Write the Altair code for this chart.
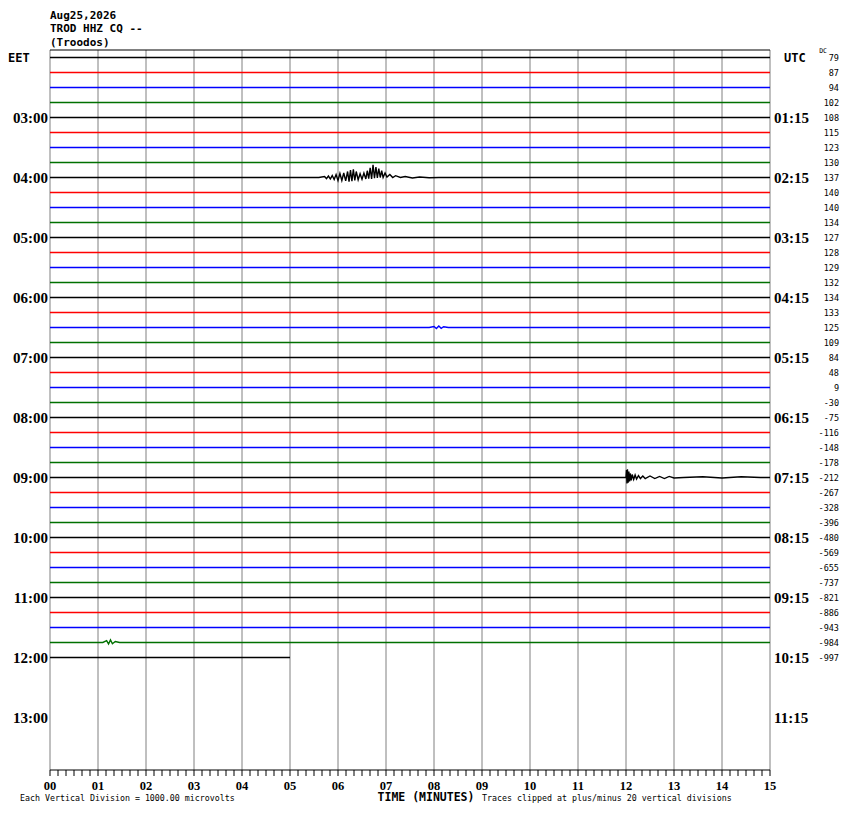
import altair as alt
import pandas as pd

# ---------------- data ----------------
station_lines = ["Aug25,2026", "TROD HHZ CQ --", "(Troodos)"]
trace_colors = ["#000000", "#ff0000", "#0000ff", "#007000"]
n_rows = 41            # 15-minute traces actually recorded
last_row_end = 5.0     # minutes recorded on the last trace
eet_labels = ["03:00", "04:00", "05:00", "06:00", "07:00", "08:00",
              "09:00", "10:00", "11:00", "12:00", "13:00"]
utc_labels = ["01:15", "02:15", "03:15", "04:15", "05:15", "06:15",
              "07:15", "08:15", "09:15", "10:15", "11:15"]
dc_values = [79, 87, 94, 102, 108, 115, 123, 130, 137, 140, 140, 134, 127, 128,
             129, 132, 134, 133, 125, 109, 84, 48, 9, -30, -75, -116, -148, -178,
             -212, -267, -328, -396, -480, -569, -655, -737, -821, -886, -943,
             -984, -997]
minute_labels = ["00", "01", "02", "03", "04", "05", "06", "07", "08", "09",
                 "10", "11", "12", "13", "14", "15"]

# event on trace 8 (04:00 EET): minutes and offset in vertical divisions (neg = up)
ev1_t = [5.60, 5.72, 5.76, 5.80, 5.84, 5.88, 5.92, 5.96, 6.00, 6.04, 6.08, 6.12,
         6.16, 6.20, 6.23, 6.26, 6.29, 6.32, 6.35, 6.38, 6.42, 6.46, 6.50, 6.54,
         6.58, 6.61, 6.64, 6.67, 6.70, 6.73, 6.76, 6.79, 6.82, 6.85, 6.88, 6.91,
         6.94, 6.98, 7.02, 7.08, 7.14, 7.20, 7.30, 7.40, 7.55, 7.70, 7.90, 8.10]
ev1_v = [0.0, -0.07, 0.07, -0.1, 0.1, -0.13, 0.13, -0.2, 0.2, -0.27, 0.2, -0.3,
         0.22, -0.4, 0.27, -0.5, 0.25, -0.55, 0.2, -0.4, 0.15, -0.25, 0.12, -0.3,
         0.1, -0.45, 0.07, -0.65, 0.1, -0.85, 0.05, -0.7, 0.03, -0.6, 0.0, -0.45,
         0.0, -0.3, -0.03, -0.2, 0.0, -0.12, 0.0, -0.07, 0.03, -0.03, 0.02, 0.0]

# event on trace 28 (09:00 EET)
ev2_t = [12.00, 12.01, 12.02, 12.03, 12.045, 12.06, 12.075, 12.09, 12.11, 12.13,
         12.16, 12.19, 12.22, 12.26, 12.30, 12.35, 12.40, 12.50, 12.60, 12.70,
         12.80, 12.90, 13.00, 13.20, 13.60, 14.00, 14.40, 14.80]
ev2_v = [0.0, -0.5, 0.4, -0.55, 0.35, -0.4, 0.27, -0.27, 0.2, -0.2, 0.13, -0.17,
         0.1, -0.13, 0.07, -0.1, 0.07, -0.1, 0.07, -0.07, 0.07, -0.07, 0.03, 0.0,
         -0.05, 0.03, -0.05, 0.0]

# small blip on trace 18 (06:30 EET)
ev3_t = [7.90, 8.00, 8.05, 8.10, 8.15, 8.20, 8.30]
ev3_v = [0.0, -0.07, 0.07, -0.1, 0.05, -0.05, 0.0]

# small blip on trace 39 (11:45 EET)
ev4_t = [1.10, 1.18, 1.22, 1.26, 1.30, 1.36, 1.45]
ev4_v = [0.0, -0.12, 0.1, -0.17, 0.08, -0.07, 0.0]

events = {8: (ev1_t, ev1_v), 28: (ev2_t, ev2_v), 18: (ev3_t, ev3_v), 39: (ev4_t, ev4_v)}

# ---------------- tables ----------------
rows = []
for r in range(n_rows):
    end = last_row_end if r == n_rows - 1 else 15.0
    pts = [(0.0, 0.0)]
    if r in events:
        pts += list(zip(events[r][0], events[r][1]))
    pts.append((end, 0.0))
    for t, v in pts:
        rows.append({"row": r, "t": t, "y": r + 0.5 + v,
                     "col": trace_colors[r % 4]})
traces = pd.DataFrame(rows)

W, H = 720, 720
xs = alt.Scale(domain=[0, 15], nice=False, zero=False)
ys = alt.Scale(domain=[0, 48], reverse=True, nice=False, zero=False)

line = alt.Chart(traces).mark_line(strokeWidth=1.4, interpolate="linear").encode(
    x=alt.X("t:Q", scale=xs, axis=None),
    y=alt.Y("y:Q", scale=ys, axis=None),
    color=alt.Color("col:N", scale=None),
    detail="row:N",
    order="t:Q",
)

minutes = pd.DataFrame({"m": list(range(16)), "lab": minute_labels})
grid = alt.Chart(minutes).mark_rule(color="#808080", strokeWidth=1).encode(
    x=alt.X("m:Q", scale=xs, axis=None), y=alt.value(0), y2=alt.value(H))

border = pd.DataFrame({"a": [0], "b": [15]})
top_line = alt.Chart(border).mark_rule(color="black", strokeWidth=1).encode(
    x=alt.X("a:Q", scale=xs, axis=None), x2="b:Q", y=alt.value(0))
bot_line = alt.Chart(border).mark_rule(color="black", strokeWidth=1).encode(
    x=alt.X("a:Q", scale=xs, axis=None), x2="b:Q", y=alt.value(H))

ticks_df = pd.DataFrame({"m": [i / 6 for i in range(91)]})
ticks = alt.Chart(ticks_df).mark_rule(color="black", strokeWidth=1).encode(
    x=alt.X("m:Q", scale=xs, axis=None), y=alt.value(H), y2=alt.value(H + 6))

min_text = alt.Chart(minutes).mark_text(
    font="Liberation Serif", fontWeight="bold", fontSize=12.5, baseline="alphabetic",
    align="center", color="black").encode(x=alt.X("m:Q", scale=xs, axis=None),
                                          y=alt.value(H + 20), text="lab:N")

hour_df = pd.DataFrame({"yc": [4 * (i + 1) + 0.5 for i in range(len(eet_labels))],
                        "eet": eet_labels, "utc": utc_labels})
eet_text = alt.Chart(hour_df).mark_text(
    font="Liberation Serif", fontWeight="bold", fontSize=15, align="right",
    baseline="middle", color="black").encode(
    x=alt.value(-2), y=alt.Y("yc:Q", scale=ys, axis=None), text="eet:N")
utc_text = alt.Chart(hour_df).mark_text(
    font="Liberation Serif", fontWeight="bold", fontSize=15, align="left",
    baseline="middle", color="black").encode(
    x=alt.value(H + 4), y=alt.Y("yc:Q", scale=ys, axis=None), text="utc:N")

dc_df = pd.DataFrame({"yc": [r + 0.5 for r in range(n_rows)],
                      "dc": [str(v) for v in dc_values]})
dc_text = alt.Chart(dc_df).mark_text(
    font="DejaVu Sans Mono", fontSize=8.5, align="right", baseline="middle",
    color="black").encode(
    x=alt.value(789), y=alt.Y("yc:Q", scale=ys, axis=None), text="dc:N")


def label(txt, x, y, size, weight="normal", align="left", baseline="alphabetic",
          font="DejaVu Sans Mono"):
    return alt.Chart(pd.DataFrame({"s": [txt]})).mark_text(
        font=font, fontSize=size, fontWeight=weight, align=align,
        baseline=baseline, color="black").encode(
        x=alt.value(x), y=alt.value(y), text="s:N")


texts = [
    label(station_lines[0], 0, -31.5, 11, "bold"),
    label(station_lines[1], 0, -18, 11, "bold"),
    label(station_lines[2], 0, -4.5, 11, "bold"),
    label("EET", -42, 7.5, 12, "bold", "left", "middle"),
    label("UTC", 734, 7.5, 12, "bold", "left", "middle"),
    label("DC", 777, 0.5, 6.5, "normal", "right", "middle"),
    label("Each Vertical Division = 1000.00 microvolts", -30, 750.5, 8.3),
    label("TIME (MINUTES)", 376, 750.5, 11.5, "bold", "center"),
    label("Traces clipped at plus/minus 20 vertical divisions", 432, 750.5, 8.3),
]

chart = alt.layer(grid, top_line, bot_line, ticks, line, min_text, eet_text,
                  utc_text, dc_text, *texts).properties(
    width=W, height=H,
    autosize=alt.AutoSizeParams(type="none"),
    padding={"left": 42, "top": 42, "right": 70, "bottom": 35},
    background="white",
).configure_view(stroke=None)

chart.save("out.html", embed_options={"renderer": "svg", "actions": False})
